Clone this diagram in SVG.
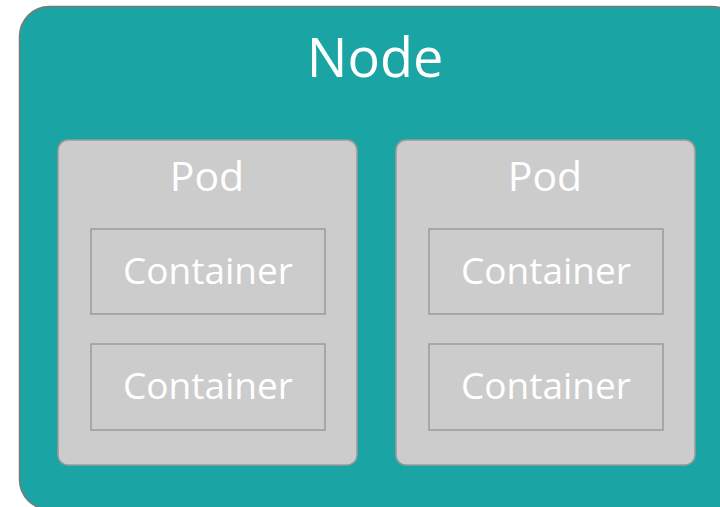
<svg xmlns="http://www.w3.org/2000/svg" width="720" height="507" viewBox="0 0 720 507">
<style>
.node{fill:#1ba4a4;stroke:#7a7a7a;stroke-width:1.5}
.pod{fill:#cccccc;stroke:#9a9a9a;stroke-width:1.5}
.ctr{fill:none;stroke:#9a9a9a;stroke-width:1.5}
text{font-family:"Open Sans","Noto Sans",sans-serif;fill:#ffffff;text-anchor:middle}
.t1{font-size:54px}
.t2{font-size:41px}
.t3{font-size:37px}
</style>
<rect width="720" height="507" fill="#ffffff"/>
<g id="node">
<rect class="node" x="19.5" y="6.5" width="722" height="503" rx="30"/>
<text class="t1" x="375" y="77">Node</text>
</g>
<g id="pod1">
<rect class="pod" x="58" y="140" width="299" height="325" rx="10"/>
<text class="t2" x="207" y="191">Pod</text>
</g>
<g id="pod2">
<rect class="pod" x="396" y="140" width="299" height="325" rx="10"/>
<text class="t2" x="545" y="191">Pod</text>
</g>
<g id="c1">
<rect class="ctr" x="91" y="229" width="234" height="85"/>
<text class="t3" x="208" y="284">Container</text>
</g>
<g id="c2">
<rect class="ctr" x="91" y="344" width="234" height="86"/>
<text class="t3" x="208" y="399">Container</text>
</g>
<g id="c3">
<rect class="ctr" x="429" y="229" width="234" height="85"/>
<text class="t3" x="546" y="284">Container</text>
</g>
<g id="c4">
<rect class="ctr" x="429" y="344" width="234" height="86"/>
<text class="t3" x="546" y="399">Container</text>
</g>
<g id="connectors"></g>
</svg>
